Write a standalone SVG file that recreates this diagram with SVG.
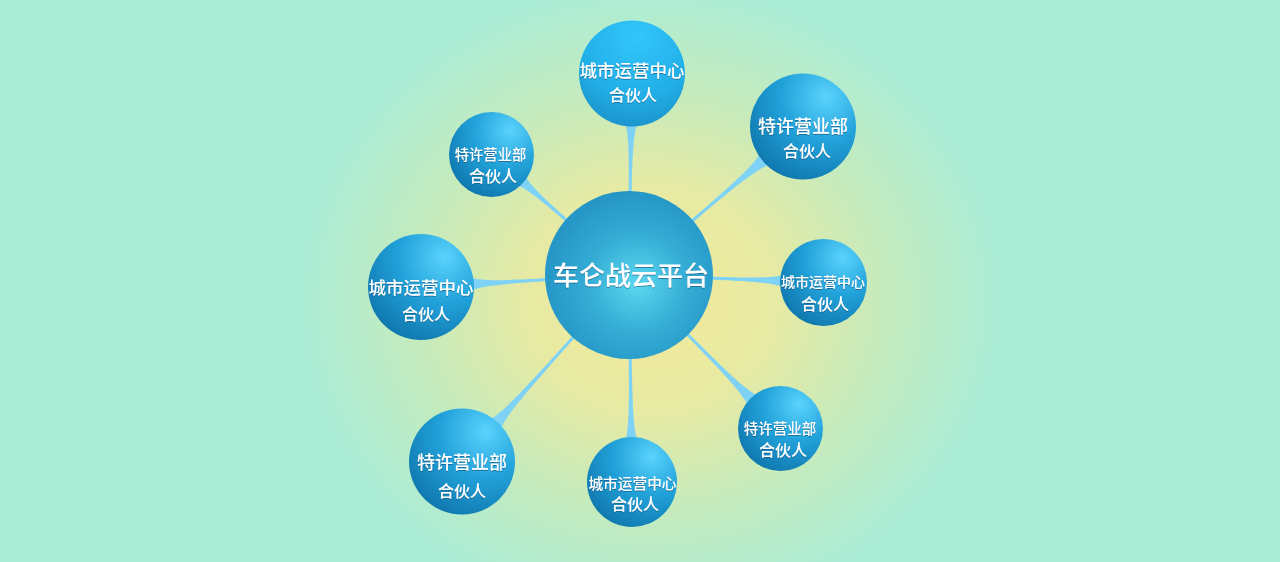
<svg xmlns="http://www.w3.org/2000/svg" width="1280" height="562" viewBox="0 0 1280 562">
<defs>
<radialGradient id="bg" gradientUnits="userSpaceOnUse" cx="650" cy="300" r="350" gradientTransform="translate(650 300) scale(1 0.9) translate(-650 -300)">
<stop offset="0" stop-color="#f3e99a"/>
<stop offset="0.35" stop-color="#e7eaa3"/>
<stop offset="0.7" stop-color="#c2ebbf"/>
<stop offset="1" stop-color="#abedd7"/>
</radialGradient>
<radialGradient id="nodeG" cx="0.72" cy="0.22" r="0.95">
<stop offset="0" stop-color="#5ad3fd"/>
<stop offset="0.45" stop-color="#22a2da"/>
<stop offset="1" stop-color="#0b6fa5"/>
</radialGradient>
<radialGradient id="topG" cx="0.55" cy="0.15" r="0.95">
<stop offset="0" stop-color="#32c6fb"/>
<stop offset="0.6" stop-color="#22aee7"/>
<stop offset="1" stop-color="#1a8cc4"/>
</radialGradient>
<radialGradient id="centerG" cx="0.55" cy="0.55" r="0.55">
<stop offset="0" stop-color="#5cd8f0"/>
<stop offset="0.55" stop-color="#34abd4"/>
<stop offset="1" stop-color="#2596c6"/>
</radialGradient>
<filter id="ts" x="-10%" y="-30%" width="120%" height="160%">
<feDropShadow dx="0" dy="1" stdDeviation="0.6" flood-color="#0a4f75" flood-opacity="0.6"/>
</filter>
<style>
.conn{fill:#7dd2f6}
.t{font-family:"Noto Sans CJK SC","Noto Sans",sans-serif;font-weight:500;fill:#ffffff;text-anchor:middle;filter:url(#ts)}
.l2{font-size:16px}
</style>
</defs>
<rect x="0" y="0" width="1280" height="562" fill="#abedd7"/>
<rect x="0" y="0" width="1280" height="562" fill="url(#bg)"/>
<g id="connectors">
<path class="conn" transform="translate(629 275) rotate(-89.15)" d="M80,-1.5 C122,-1.5 140,-2.5 152.5,-6 L152.5,6 C140,2.5 122,1.5 80,1.5 Z"/>
<path class="conn" transform="translate(629 275) rotate(-40.48)" d="M80,-1.5 C148,-1.5 166,-3 179.8,-7.5 L179.8,7.5 C166,3 148,1.5 80,1.5 Z"/>
<path class="conn" transform="translate(629 275) rotate(2.21)" d="M80,-1.5 C124,-1.5 142,-2.5 154.6,-6 L154.6,6 C142,2.5 124,1.5 80,1.5 Z"/>
<path class="conn" transform="translate(629 275) rotate(45.38)" d="M80,-1.5 C146,-1.5 164,-3 176.7,-7 L176.7,7 C164,3 146,1.5 80,1.5 Z"/>
<path class="conn" transform="translate(629 275) rotate(89.17)" d="M80,-1.5 C136,-1.5 154,-2.5 166,-6 L166,6 C154,2.5 136,1.5 80,1.5 Z"/>
<path class="conn" transform="translate(629 275) rotate(131.84)" d="M80,-1.5 C170,-1.5 188,-3 201.3,-7.5 L201.3,7.5 C188,3 170,1.5 80,1.5 Z"/>
<path class="conn" transform="translate(629 275) rotate(176.7)" d="M80,-1.5 C128,-1.5 146,-2.5 159.3,-6.5 L159.3,6.5 C146,2.5 128,1.5 80,1.5 Z"/>
<path class="conn" transform="translate(629 275) rotate(-138.77)" d="M80,-1.5 C114,-1.5 132,-2.5 143.8,-6 L143.8,6 C132,2.5 114,1.5 80,1.5 Z"/>
</g>
<g id="center">
<circle cx="629" cy="275" r="84" fill="url(#centerG)"/>
<text class="t" x="631" y="285" font-size="26">车仑战云平台</text>
</g>
<g id="node-top">
<circle cx="632" cy="73.5" r="53" fill="url(#topG)"/>
<text class="t" x="632" y="77" font-size="17.5">城市运营中心</text>
<text class="t l2" x="633" y="101">合伙人</text>
</g>
<g id="node-topright">
<circle cx="803" cy="126.5" r="53" fill="url(#nodeG)"/>
<text class="t" x="803" y="133" font-size="18">特许营业部</text>
<text class="t l2" x="807" y="157">合伙人</text>
</g>
<g id="node-right">
<circle cx="823.5" cy="282.5" r="43.5" fill="url(#nodeG)"/>
<text class="t" x="823" y="287" font-size="14">城市运营中心</text>
<text class="t l2" x="825" y="310">合伙人</text>
</g>
<g id="node-bottomright">
<circle cx="780.5" cy="428.5" r="42.5" fill="url(#nodeG)"/>
<text class="t" x="780" y="434" font-size="14.5">特许营业部</text>
<text class="t l2" x="783" y="456">合伙人</text>
</g>
<g id="node-bottom">
<circle cx="632" cy="482" r="45" fill="url(#nodeG)"/>
<text class="t" x="632.5" y="489" font-size="14.7">城市运营中心</text>
<text class="t l2" x="635" y="510">合伙人</text>
</g>
<g id="node-bottomleft">
<circle cx="462" cy="461.5" r="53" fill="url(#nodeG)"/>
<text class="t" x="462" y="469" font-size="18">特许营业部</text>
<text class="t l2" x="462" y="497">合伙人</text>
</g>
<g id="node-left">
<circle cx="421" cy="287" r="53" fill="url(#nodeG)"/>
<text class="t" x="421" y="294" font-size="17.5">城市运营中心</text>
<text class="t l2" x="426" y="320">合伙人</text>
</g>
<g id="node-topleft">
<circle cx="491.5" cy="154.5" r="42.5" fill="url(#nodeG)"/>
<text class="t" x="490.5" y="160" font-size="14.3">特许营业部</text>
<text class="t l2" x="493" y="182">合伙人</text>
</g>
</svg>
